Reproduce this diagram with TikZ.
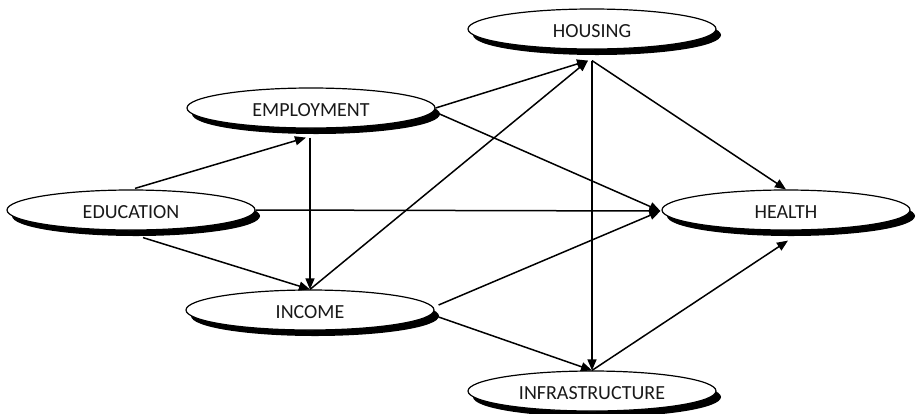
\documentclass[tikz,border=0pt]{standalone}
\usepackage{fontspec}
\setmainfont{Carlito}
\usetikzlibrary{shapes.geometric,shadows,arrows.meta,calc}
\begin{document}
\begin{tikzpicture}[x=1pt,y=-1pt,
 var/.style={ellipse, draw=black, line width=1.2pt, fill=white, minimum width=248pt, minimum height=40pt, inner sep=0pt, text height=16pt, text depth=0pt, font=\fontsize{20}{24}\selectfont, text=black!90, drop shadow={shadow xshift=5pt, shadow yshift=-6pt, fill=black, opacity=1}},
 link/.style={line width=1.5pt, -{Triangle[length=11pt,width=9pt]}}]
\useasboundingbox (0,0) rectangle (917,413);
\node[var] (edu) at (131,210) {EDUCATION};
\node[var] (emp) at (311,108) {EMPLOYMENT};
\node[var] (hou) at (592,29) {HOUSING};
\node[var] (hea) at (786,210) {HEALTH};
\node[var] (inc) at (310,310) {INCOME};
\node[var] (inf) at (592,391) {INFRASTRUCTURE};
\coordinate (empB) at ($(emp.south)+(-1,9)$);
\coordinate (houB) at ($(hou.south)+(-4,11)$);
\coordinate (houS) at ($(hou.south)+(0,11)$);
\coordinate (heaW) at ($(hea.west)+(-1,1)$);
\coordinate (heaB) at ($(hea.south)+(2,10)$);
\coordinate (eduB) at ($(edu.south)+(12,7)$);
\coordinate (incR1) at ($(inc.east)+(4,-5)$);
\coordinate (incR2) at ($(inc.east)+(4,7)$);
\coordinate (empR2) at ($(emp.east)+(4,6)$);
\draw[link] ($(edu.north)+(4,-1)$) -- ($(empB)+(-4,0)$);
\draw[link] (eduB) -- (inc.north);
\draw[link] (edu.east) -- (heaW);
\draw[link] (empB) -- (inc.north);
\draw[link] (emp.east) -- (houB);
\draw[link] (empR2) -- (heaW);
\draw[link] (inc.north) -- (houB);
\draw[link] (incR1) -- (heaW);
\draw[link] (incR2) -- (inf.north);
\draw[link] (houS) -- (inf.north);
\draw[link] (houS) -- (hea.north);
\draw[link] (inf.north) -- (heaB);
\end{tikzpicture}
\end{document}
